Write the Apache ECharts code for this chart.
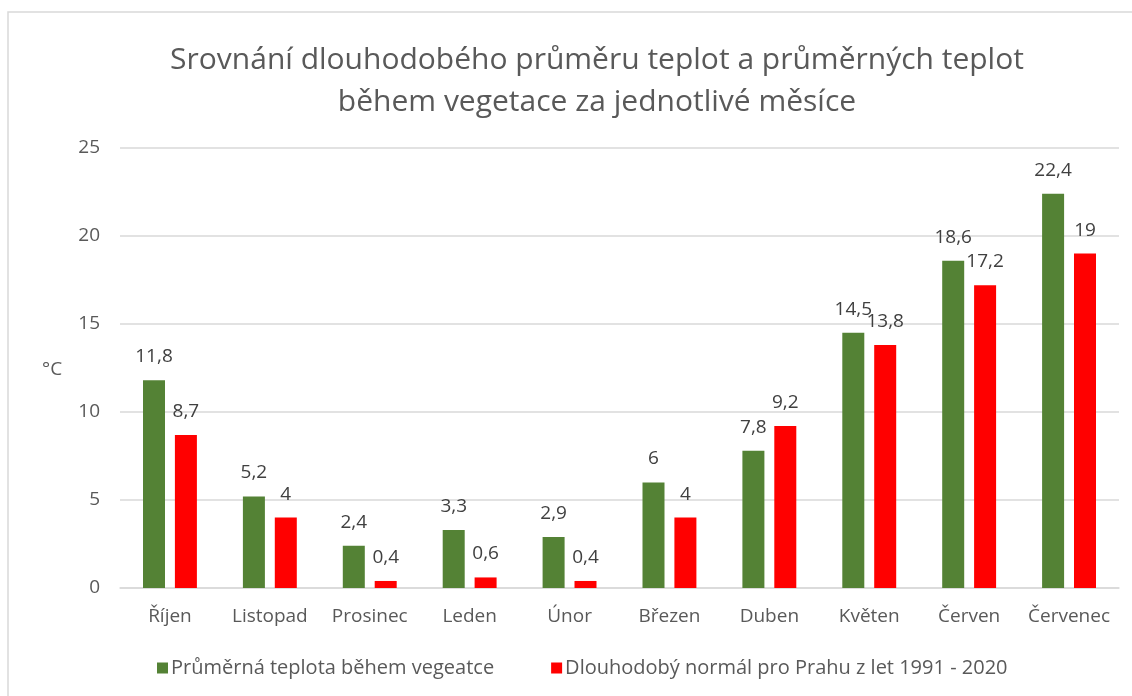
<!DOCTYPE html>
<html><head><meta charset="utf-8">
<script src="https://cdn.jsdelivr.net/npm/echarts@6/dist/echarts.min.js"></script>
<style>html,body{margin:0;padding:0;background:#fff}#c{width:1132px;height:696px}</style>
</head><body><div id="c"></div>
<script>
const categories = ['Říjen','Listopad','Prosinec','Leden','Únor','Březen','Duben','Květen','Červen','Červenec'];
const vegetace = [11.8, 5.2, 2.4, 3.3, 2.9, 6, 7.8, 14.5, 18.6, 22.4];
const normal = [8.7, 4, 0.4, 0.6, 0.4, 4, 9.2, 13.8, 17.2, 19];
const seriesNames = ['Průměrná teplota během vegeatce', 'Dlouhodobý normál pro Prahu z let 1991 - 2020'];
const titleText = 'Srovnání dlouhodobého průměru teplot a průměrných teplot\nběhem vegetace za jednotlivé měsíce';
const unitText = '°C';

const FONT = '"Open Sans", "Noto Sans", sans-serif';
const chart = echarts.init(document.getElementById('c'));
const fmt = p => String(p.value).replace('.', ',');
chart.setOption({
  animation: false,
  textStyle: { fontFamily: FONT },
  graphic: [
    { type: 'rect', shape: { x: 8, y: 12, width: 1300, height: 900 }, style: { fill: 'none', stroke: '#d9d9d9', lineWidth: 1.5 }, z: -1 },
    { type: 'text', left: 42, top: 360, style: { text: unitText, fill: '#595959', font: '19px ' + FONT } }
  ],
  title: {
    text: titleText, left: 592, textAlign: 'center', top: 34,
    textStyle: { color: '#595959', fontSize: 30, fontWeight: 'normal', lineHeight: 42, fontFamily: FONT }
  },
  legend: {
    left: 152, top: 653, itemWidth: 11, itemHeight: 11, itemGap: 57,
    icon: 'rect',
    textStyle: { color: '#595959', fontSize: 20, fontFamily: FONT, padding: [0,0,0,-2] }
  },
  grid: { left: 120, right: 13, top: 148, bottom: 108 },
  xAxis: {
    type: 'category', data: categories,
    axisLine: { lineStyle: { color: '#d9d9d9', width: 1.5 } },
    axisTick: { show: false },
    axisLabel: { color: '#595959', fontSize: 19, margin: 19, interval: 0, fontFamily: FONT }
  },
  yAxis: {
    type: 'value', min: 0, max: 25, interval: 5,
    axisLine: { show: false }, axisTick: { show: false },
    splitLine: { lineStyle: { color: '#d9d9d9', width: 1.5 } },
    axisLabel: { color: '#595959', fontSize: 19, margin: 20, fontFamily: FONT }
  },
  series: [
    { name: seriesNames[0], type: 'bar', data: vegetace, barWidth: 22, barGap: '45%',
      itemStyle: { color: '#548235' },
      label: { show: true, position: 'top', distance: 14, color: '#404040', fontSize: 19, formatter: fmt, fontFamily: FONT } },
    { name: seriesNames[1], type: 'bar', data: normal, barWidth: 22,
      itemStyle: { color: '#ff0000' },
      label: { show: true, position: 'top', distance: 14, color: '#404040', fontSize: 19, formatter: fmt, fontFamily: FONT } }
  ]
});
</script></body></html>
